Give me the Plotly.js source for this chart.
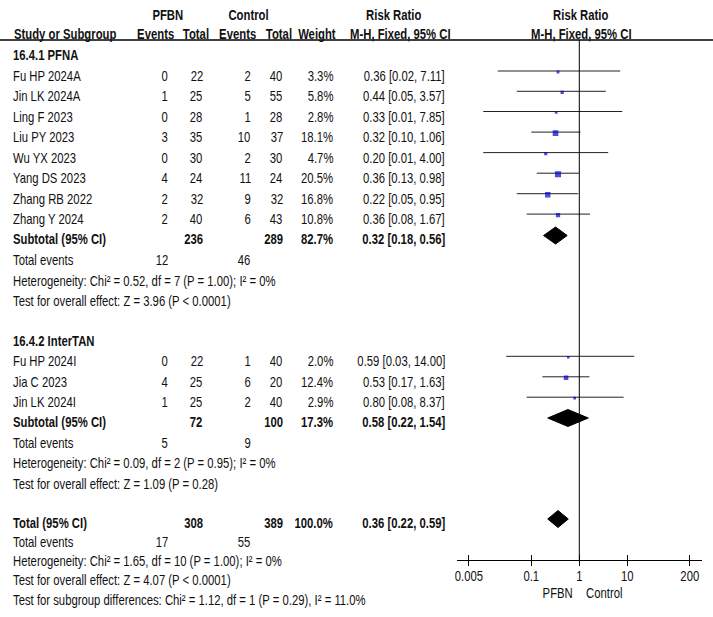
<!DOCTYPE html>
<html>
<head>
<meta charset="utf-8">
<script src="https://cdn.plot.ly/plotly-3.0.1.min.js"></script>
<style>
  html, body { margin: 0; padding: 0; background: #fff; }
  #chart { width: 713px; height: 617px; }
</style>
</head>
<body>
<div id="chart"></div>
<script>
// ---- Subgroup 16.4.1 PFNA ----
const pfnaStudies   = ['Fu HP 2024A', 'Jin LK 2024A', 'Ling F 2023', 'Liu PY 2023', 'Wu YX 2023', 'Yang DS 2023', 'Zhang RB 2022', 'Zhang Y 2024'];
const pfnaEvtPFBN   = [0, 1, 0, 3, 0, 4, 2, 2];
const pfnaTotPFBN   = [22, 25, 28, 35, 30, 24, 32, 40];
const pfnaEvtCtrl   = [2, 5, 1, 10, 2, 11, 9, 6];
const pfnaTotCtrl   = [40, 55, 28, 37, 30, 24, 32, 43];
const pfnaWeight    = [3.3, 5.8, 2.8, 18.1, 4.7, 20.5, 16.8, 10.8];
const pfnaRR        = [0.36, 0.44, 0.33, 0.32, 0.20, 0.36, 0.22, 0.36];
const pfnaLo        = [0.02, 0.05, 0.01, 0.10, 0.01, 0.13, 0.05, 0.08];
const pfnaHi        = [7.11, 3.57, 7.85, 1.06, 4.00, 0.98, 0.95, 1.67];
const pfnaSubtotal  = { totPFBN: 236, totCtrl: 289, weight: 82.7, rr: 0.32, lo: 0.18, hi: 0.56, evtPFBN: 12, evtCtrl: 46 };
const pfnaHet       = 'Heterogeneity: Chi² = 0.52, df = 7 (P = 1.00); I² = 0%';
const pfnaTest      = 'Test for overall effect: Z = 3.96 (P < 0.0001)';

// ---- Subgroup 16.4.2 InterTAN ----
const interStudies  = ['Fu HP 2024I', 'Jia C 2023', 'Jin LK 2024I'];
const interEvtPFBN  = [0, 4, 1];
const interTotPFBN  = [22, 25, 25];
const interEvtCtrl  = [1, 6, 2];
const interTotCtrl  = [40, 20, 40];
const interWeight   = [2.0, 12.4, 2.9];
const interRR       = [0.59, 0.53, 0.80];
const interLo       = [0.03, 0.17, 0.08];
const interHi       = [14.00, 1.63, 8.37];
const interSubtotal = { totPFBN: 72, totCtrl: 100, weight: 17.3, rr: 0.58, lo: 0.22, hi: 1.54, evtPFBN: 5, evtCtrl: 9 };
const interHet      = 'Heterogeneity: Chi² = 0.09, df = 2 (P = 0.95); I² = 0%';
const interTest     = 'Test for overall effect: Z = 1.09 (P = 0.28)';

// ---- Overall ----
const overall       = { totPFBN: 308, totCtrl: 389, weight: 100.0, rr: 0.36, lo: 0.22, hi: 0.59, evtPFBN: 17, evtCtrl: 55 };
const overallHet    = 'Heterogeneity: Chi² = 1.65, df = 10 (P = 1.00); I² = 0%';
const overallTest   = 'Test for overall effect: Z = 4.07 (P < 0.0001)';
const subgroupTest  = 'Test for subgroup differences: Chi² = 1.12, df = 1 (P = 0.29), I² = 11.0%';

// ---- Axis ticks ----
const tickVals   = [0.005, 0.1, 1, 10, 200];
const tickLabels = ['0.005', '0.1', '1', '10', '200'];

// ================= layout helpers =================
const W = 713, H = 617;
const FONT = '"Liberation Sans", Arial, Helvetica, sans-serif';
const FS = 13.8;          // drawn size; glyphs are narrowed horizontally afterwards
const NARROW = 0.82;      // horizontal condensing of all text
const INK = '#111';

// row centres (pixel rows of the table)
const rowPfnaHead = 55.5;
const rowPfna = [76.5, 96.8, 117.0, 137.6, 158.1, 178.7, 199.2, 219.6];
const rowPfnaSub = 239.5, rowPfnaEvt = 260.3, rowPfnaHet = 281.0, rowPfnaTest = 301.5;
const rowInterHead = 341.0;
const rowInter = [361.8, 382.3, 402.7];
const rowInterSub = 422.0, rowInterEvt = 443.0, rowInterHet = 463.4, rowInterTest = 484.0;
const rowTotal = 523.0, rowTotEvt = 542.2, rowTotHet = 561.4, rowTotTest = 580.8, rowSubDiff = 600.6;

// column anchors (px)
const colName = 10.5, colEvt1 = 169.5, colTot1 = 205, colEvt2 = 253, colTot2 = 285, colWt = 335, colRR = 447;
const axisY = 560, headerRule = 40;

const px = x => x / W;
const fmtRR = (r, l, h) => r.toFixed(2) + ' [' + l.toFixed(2) + ', ' + h.toFixed(2) + ']';
const b = s => '<b>' + s + '</b>';

const annotations = [];
function txt(x, y, s, anchor) {
  const a = anchor || 'left';
  annotations.push({
    x: px(x), y: y, xref: 'paper', yref: 'y', text: String(s), showarrow: false,
    xanchor: a, align: a, yanchor: 'middle',
    font: { family: FONT, size: FS, color: INK }
  });
}

// header
txt(167.5, 15, b('PFBN'), 'center');
txt(248, 15, b('Control'), 'center');
txt(393, 15, b('Risk Ratio'), 'center');
txt(580, 15, b('Risk Ratio'), 'center');
txt(colName + 1, 34.5, b('Study or Subgroup'), 'left');
txt(156, 34.5, b('Events'), 'center');
txt(196, 34.5, b('Total'), 'center');
txt(238, 34.5, b('Events'), 'center');
txt(279, 34.5, b('Total'), 'center');
txt(317, 34.5, b('Weight'), 'center');
txt(400.5, 34.5, b('M-H, Fixed, 95% CI'), 'center');
txt(581, 34.5, b('M-H, Fixed, 95% CI'), 'center');

// studies, subtotal and statistics for one subgroup
function group(title, yHead, names, e1, t1, e2, t2, wt, rr, lo, hi, rows, sub, ySub, yEvt, het, yHet, test, yTest) {
  txt(colName, yHead, b(title));
  names.forEach((n, i) => {
    const y = rows[i];
    txt(colName, y, n);
    txt(colEvt1, y, e1[i], 'right');
    txt(colTot1, y, t1[i], 'right');
    txt(colEvt2, y, e2[i], 'right');
    txt(colTot2, y, t2[i], 'right');
    txt(colWt, y, wt[i].toFixed(1) + '%', 'right');
    txt(colRR, y, fmtRR(rr[i], lo[i], hi[i]), 'right');
  });
  txt(colName, ySub, b('Subtotal (95% CI)'));
  txt(colTot1, ySub, b(sub.totPFBN), 'right');
  txt(colTot2, ySub, b(sub.totCtrl), 'right');
  txt(colWt, ySub, b(sub.weight.toFixed(1) + '%'), 'right');
  txt(colRR, ySub, b(fmtRR(sub.rr, sub.lo, sub.hi)), 'right');
  txt(colName, yEvt, 'Total events');
  txt(colEvt1, yEvt, sub.evtPFBN, 'right');
  txt(colEvt2, yEvt, sub.evtCtrl, 'right');
  txt(colName, yHet, het);
  txt(colName, yTest, test);
}

group('16.4.1 PFNA', rowPfnaHead, pfnaStudies, pfnaEvtPFBN, pfnaTotPFBN, pfnaEvtCtrl, pfnaTotCtrl,
      pfnaWeight, pfnaRR, pfnaLo, pfnaHi, rowPfna, pfnaSubtotal, rowPfnaSub, rowPfnaEvt,
      pfnaHet, rowPfnaHet, pfnaTest, rowPfnaTest);
group('16.4.2 InterTAN', rowInterHead, interStudies, interEvtPFBN, interTotPFBN, interEvtCtrl, interTotCtrl,
      interWeight, interRR, interLo, interHi, rowInter, interSubtotal, rowInterSub, rowInterEvt,
      interHet, rowInterHet, interTest, rowInterTest);

// overall
txt(colName, rowTotal, b('Total (95% CI)'));
txt(colTot1, rowTotal, b(overall.totPFBN), 'right');
txt(colTot2, rowTotal, b(overall.totCtrl), 'right');
txt(colWt, rowTotal, b(overall.weight.toFixed(1) + '%'), 'right');
txt(colRR, rowTotal, b(fmtRR(overall.rr, overall.lo, overall.hi)), 'right');
txt(colName, rowTotEvt, 'Total events');
txt(colEvt1, rowTotEvt, overall.evtPFBN, 'right');
txt(colEvt2, rowTotEvt, overall.evtCtrl, 'right');
txt(colName, rowTotHet, overallHet);
txt(colName, rowTotTest, overallTest);
txt(colName, rowSubDiff, subgroupTest);

// favours labels under the scale
txt(575, 593.5, 'PFBN', 'right');
txt(584, 593.5, 'Control', 'left');

// ================= forest marks =================
const LINE_DY = -5.5, SQ_DY = -4.5, DIA_DY = -4, DIA_H = 8.5;

const allRR = pfnaRR.concat(interRR);
const allLo = pfnaLo.concat(interLo);
const allHi = pfnaHi.concat(interHi);
const allW  = pfnaWeight.concat(interWeight);
const allRows = rowPfna.concat(rowInter);

const ciX = [], ciY = [];
allRR.forEach((r, i) => {
  ciX.push(allLo[i], allHi[i], null);
  ciY.push(allRows[i] + LINE_DY, allRows[i] + LINE_DY, null);
});

const traces = [];
traces.push({
  x: ciX, y: ciY, type: 'scatter', mode: 'lines', xaxis: 'x', yaxis: 'y',
  line: { color: '#222', width: 1 }, hoverinfo: 'skip', showlegend: false
});
traces.push({
  x: allRR, y: allRows.map(y => y + SQ_DY), type: 'scatter', mode: 'markers', xaxis: 'x', yaxis: 'y',
  marker: { symbol: 'square', color: '#0000c8', size: allW.map(w => 2.2 + 0.19 * w), line: { width: 0 } },
  hoverinfo: 'skip', showlegend: false
});

function diamond(s, yRow) {
  const yc = yRow + DIA_DY;
  traces.push({
    x: [s.lo, s.rr, s.hi, s.rr, s.lo], y: [yc, yc - DIA_H, yc, yc + DIA_H, yc],
    type: 'scatter', mode: 'lines', fill: 'toself', fillcolor: '#000',
    line: { color: '#000', width: 1 }, xaxis: 'x', yaxis: 'y', hoverinfo: 'skip', showlegend: false
  });
}
diamond(pfnaSubtotal, rowPfnaSub);
diamond(interSubtotal, rowInterSub);
diamond(overall, rowTotal);

// invisible anchor for the upward tick axis
traces.push({ x: [1], y: [-50], type: 'scatter', mode: 'markers', xaxis: 'x2', yaxis: 'y',
  marker: { opacity: 0 }, hoverinfo: 'skip', showlegend: false });

const axisPos = (H - axisY) / H;
const dom = [456.7 / W, 701.7 / W];
const rng = [-2.554, 2.55];

const layout = {
  width: W, height: H,
  margin: { l: 0, r: 0, t: 0, b: 0, pad: 0 },
  paper_bgcolor: '#fff', plot_bgcolor: 'rgba(0,0,0,0)',
  showlegend: false,
  xaxis: {
    type: 'log', domain: dom, range: rng, anchor: 'free', position: axisPos,
    showline: true, linecolor: '#000', linewidth: 1,
    ticks: 'outside', ticklen: 5, tickwidth: 1, tickcolor: '#000',
    ticklabelstandoff: -2,
    tickvals: tickVals, ticktext: tickLabels,
    tickfont: { family: FONT, size: FS, color: INK },
    showgrid: false, zeroline: false, fixedrange: true
  },
  xaxis2: {
    type: 'log', overlaying: 'x', matches: 'x', anchor: 'free', position: axisPos,
    showline: false, ticks: 'inside', ticklen: 5, tickwidth: 1, tickcolor: '#000',
    tickvals: tickVals, showticklabels: false, showgrid: false, zeroline: false, fixedrange: true
  },
  yaxis: { domain: [0, 1], range: [H, 0], visible: false, fixedrange: true, anchor: 'x' },
  shapes: [
    { type: 'line', xref: 'paper', yref: 'y', x0: 0, x1: 1, y0: headerRule, y1: headerRule,
      line: { color: '#000', width: 1.3 } },
    { type: 'line', xref: 'x', yref: 'y', x0: 1, x1: 1, y0: headerRule, y1: axisY,
      line: { color: '#000', width: 1 } }
  ],
  annotations: annotations
};

// narrow every text run about its own anchor point (condensed typeface look)
function condenseText(gd) {
  gd.querySelectorAll('.annotation-text, .xtick text').forEach(t => {
    const bb = t.getBBox();
    const anchor = t.getAttribute('text-anchor') || 'start';
    const ox = anchor === 'end' ? bb.x + bb.width
             : anchor === 'middle' ? bb.x + bb.width / 2 : bb.x;
    const prev = t.getAttribute('transform') || '';
    t.setAttribute('transform',
      (prev + ' translate(' + ox + ',0) scale(' + NARROW + ',1) translate(' + (-ox) + ',0)').trim());
  });
}

Plotly.newPlot('chart', traces, layout, { staticPlot: true, displayModeBar: false })
  .then(condenseText);
</script>
</body>
</html>
